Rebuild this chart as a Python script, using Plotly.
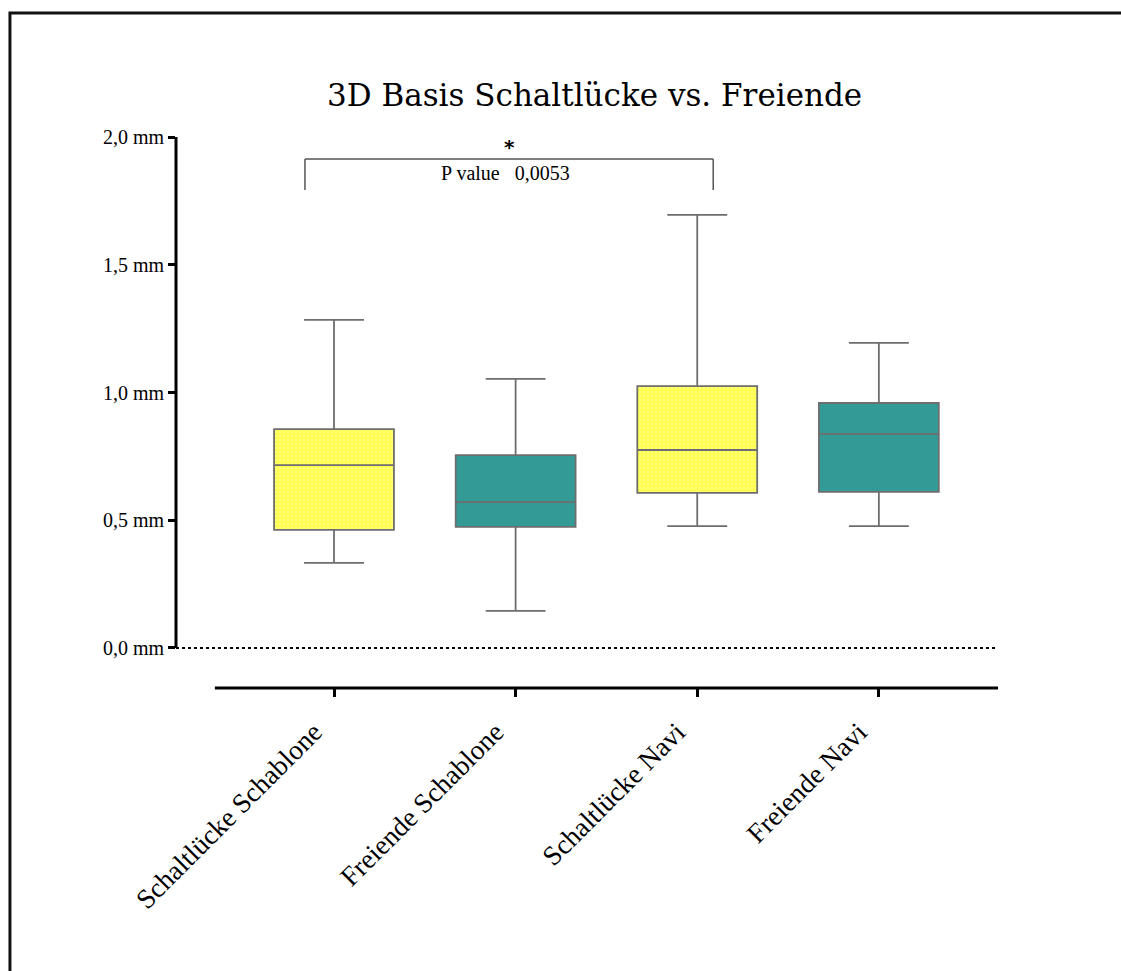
import plotly.graph_objects as go

categories = ["Schaltlücke Schablone", "Freiende Schablone", "Schaltlücke Navi", "Freiende Navi"]
q1 = [0.462, 0.474, 0.607, 0.611]
median = [0.716, 0.571, 0.775, 0.838]
q3 = [0.857, 0.755, 1.025, 0.959]
lower = [0.333, 0.145, 0.477, 0.477]
upper = [1.284, 1.053, 1.695, 1.194]
patterned = [True, False, True, False]
ytick_vals = [0.0, 0.5, 1.0, 1.5, 2.0]
ytick_text = ["0,0 mm", "0,5 mm", "1,0 mm", "1,5 mm", "2,0 mm"]
title = "3D Basis Schaltlücke vs. Freiende"
p_label = "P value   0,0053"
sig_pair = (0, 2)

FONT = "Liberation Serif"
TITLE_FONT = "DejaVu Serif"
TEAL = "#349a96"
YELLOW = "#ffff00"
BOXW = 0.66

fig = go.Figure()
xs = list(range(len(categories)))

for i in xs:
    if patterned[i]:
        fig.add_trace(go.Bar(
            x=[i], y=[q3[i] - q1[i]], base=[q1[i]], width=BOXW,
            marker=dict(color="white", line=dict(width=0),
                        pattern=dict(shape=".", fgcolor=YELLOW, bgcolor="#ffffa0",
                                     size=4, solidity=0.8, fillmode="overlay")),
            showlegend=False, hoverinfo="skip"))
for i in xs:
    fig.add_trace(go.Box(
        x=[i], q1=[q1[i]], median=[median[i]], q3=[q3[i]],
        lowerfence=[lower[i]], upperfence=[upper[i]],
        width=BOXW, whiskerwidth=0.5,
        fillcolor="rgba(0,0,0,0)" if patterned[i] else TEAL,
        line=dict(color="#6e6e6e", width=1.8),
        boxpoints=False, showlegend=False))

L, R, T, B = 176, 123, 136, 283
W, H = 1121, 971
fig.update_layout(
    width=W, height=H,
    margin=dict(l=L, r=R, t=T, b=B),
    paper_bgcolor="white", plot_bgcolor="white",
    barmode="overlay",
    font=dict(family=FONT, color="black"),
    xaxis=dict(range=[-0.870, 3.656], tickvals=xs, ticktext=categories,
               tickangle=-45, ticks="outside", ticklen=8, tickwidth=2.5,
               tickcolor="black", showline=False, showgrid=False, zeroline=False,
               ticklabelstandoff=8, ticklabelshift=-20,
               tickfont=dict(family=FONT, size=27.5, color="black")),
    yaxis=dict(range=[-0.1566, 2.004], tickvals=ytick_vals, ticktext=ytick_text,
               ticks="outside", ticklen=7, tickwidth=3, tickcolor="black",
               showline=False, showgrid=False, zeroline=False,
               tickfont=dict(family=FONT, size=20, color="black")),
)

fig.add_annotation(text=title, xref="paper", yref="paper",
                   x=(594 - L) / (W - L - R), y=1 + (T - 95) / (H - T - B),
                   showarrow=False, xanchor="center", yanchor="middle",
                   font=dict(family=TITLE_FONT, size=31, color="black"))

# y axis line
fig.add_shape(type="line", xref="paper", yref="y", x0=0, x1=0, y0=0, y1=2.0,
              line=dict(color="black", width=3))
# dotted baseline
fig.add_shape(type="line", xref="paper", yref="y", x0=0, x1=1, y0=0, y1=0,
              line=dict(color="black", width=2, dash="dot"))
# x axis line
fig.add_shape(type="line", xref="x", yref="paper", x0=-0.656, x1=3.656, y0=0, y1=0,
              line=dict(color="black", width=3))
# frame
fig.add_shape(type="rect", xref="paper", yref="paper", x0=-0.202, x1=3, y0=-2, y1=1.223,
              line=dict(color="#111", width=3))

# significance bracket
a, b = sig_pair
bx0, bx1, by, bdrop = a - 0.16, b + 0.088, 1.914, 1.793
fig.add_shape(type="line", x0=bx0, x1=bx1, y0=by, y1=by, line=dict(color="#555", width=1.5))
fig.add_shape(type="line", x0=bx0, x1=bx0, y0=by, y1=bdrop, line=dict(color="#555", width=1.5))
fig.add_shape(type="line", x0=bx1, x1=bx1, y0=by, y1=bdrop, line=dict(color="#555", width=1.5))
fig.add_annotation(x=(bx0 + bx1) / 2, y=by, text="<b>*</b>", showarrow=False,
                   yanchor="bottom", yshift=-2, font=dict(family="DejaVu Sans", size=20, color="black"))
fig.add_annotation(x=(bx0 + bx1) / 2 - 0.02, y=by, text=p_label, showarrow=False,
                   yanchor="top", yshift=-1, font=dict(family=FONT, size=20, color="black"))

fig.write_html("out.html")
